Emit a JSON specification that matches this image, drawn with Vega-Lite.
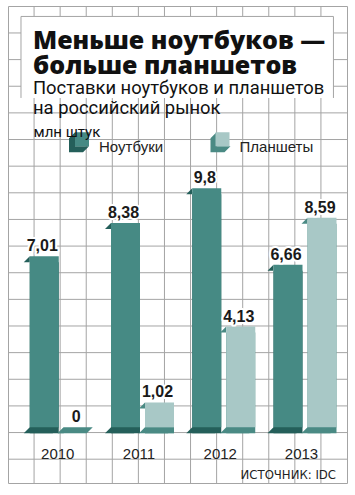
{
  "$schema": "https://vega.github.io/schema/vega-lite/v6.json",
  "width": 339,
  "height": 477,
  "autosize": "none",
  "padding": {"left": 8, "top": 6, "right": 8, "bottom": 12},
  "background": "white",
  "config": {
    "view": {"stroke": "#a4a4a4", "strokeWidth": 1},
    "locale": {"number": {"decimal": ",", "thousands": "\u00a0", "grouping": [3], "currency": ["", " руб."]}}
  },
  "title": {
    "text": ["Меньше ноутбуков —", "больше планшетов"],
    "subtitle": ["Поставки ноутбуков и планшетов", "на российский рынок"],
    "anchor": "start",
    "frame": "group",
    "orient": "top",
    "font": "Open Sans",
    "fontWeight": 800,
    "fontSize": 25,
    "lineHeight": 25,
    "color": "#111111",
    "subtitleFont": "Roboto",
    "subtitleFontSize": 18.4,
    "subtitleLineHeight": 20,
    "subtitleColor": "#111111",
    "subtitlePadding": 0,
    "offset": -112,
    "dx": 25
  },
  "layer": [
    {
      "layer": [
        {
          "data": {"values": [{"gx": 1}, {"gx": 2}, {"gx": 3}, {"gx": 4}, {"gx": 5}, {"gx": 6}, {"gx": 7}, {"gx": 8}, {"gx": 9}, {"gx": 10}, {"gx": 11}, {"gx": 12}]},
          "mark": {"type": "rule", "color": "#a4a4a4", "strokeWidth": 1},
          "encoding": {
            "x": {"field": "gx", "type": "quantitative", "scale": {"domain": [0, 13], "nice": false, "zero": false}, "axis": null}
          }
        },
        {
          "data": {"values": [{"gy": 0}, {"gy": 1}, {"gy": 2}, {"gy": 3}, {"gy": 4}, {"gy": 5}, {"gy": 6}, {"gy": 7}, {"gy": 8}, {"gy": 9}, {"gy": 10}, {"gy": 11}, {"gy": 12}, {"gy": 13}, {"gy": 14}, {"gy": 15}, {"gy": 16}]},
          "mark": {"type": "rule", "color": "#a4a4a4", "strokeWidth": 1},
          "encoding": {
            "y": {"field": "gy", "type": "quantitative", "scale": {"domain": [-0.8934, 17.012], "nice": false, "zero": false}, "axis": null}
          }
        },
        {
          "data": {"values": [{}]},
          "mark": {"type": "rect", "fill": "white"},
          "encoding": {
            "x": {"datum": 0.4985, "type": "quantitative", "axis": null},
            "x2": {"datum": 12.48},
            "y": {"datum": 13.56, "type": "quantitative", "axis": null},
            "y2": {"datum": 16.62}
          }
        },
        {
          "data": {"values": [{}]},
          "mark": {"type": "rule", "color": "#a4a4a4", "strokeWidth": 1},
          "encoding": {"x": {"datum": 0.4985, "type": "quantitative", "axis": null}, "x2": {"datum": 12.48}, "y": {"datum": 16.62, "type": "quantitative", "axis": null}}
        },
        {
          "data": {"values": [{}]},
          "mark": {"type": "rule", "color": "#a4a4a4", "strokeWidth": 1},
          "encoding": {"x": {"datum": 0.4985, "type": "quantitative", "axis": null}, "y": {"datum": 13.56, "type": "quantitative", "axis": null}, "y2": {"datum": 16.62}}
        },
        {
          "data": {"values": [{}]},
          "mark": {"type": "rule", "color": "#a4a4a4", "strokeWidth": 1},
          "encoding": {"x": {"datum": 12.48, "type": "quantitative", "axis": null}, "y": {"datum": 13.56, "type": "quantitative", "axis": null}, "y2": {"datum": 16.62}}
        }
      ]
    },
    {
      "data": {"values": [
        {"year": "2010", "type": "Ноутбуки", "value": 7.01},
        {"year": "2010", "type": "Планшеты", "value": 0},
        {"year": "2011", "type": "Ноутбуки", "value": 8.38},
        {"year": "2011", "type": "Планшеты", "value": 1.02},
        {"year": "2012", "type": "Ноутбуки", "value": 9.8},
        {"year": "2012", "type": "Планшеты", "value": 4.13},
        {"year": "2013", "type": "Ноутбуки", "value": 6.66},
        {"year": "2013", "type": "Планшеты", "value": 8.59}
      ]},
      "encoding": {
        "x": {"field": "year", "type": "ordinal",
          "scale": {"paddingInner": 0, "paddingOuter": 0.08615, "align": 0.9018},
          "axis": {"orient": "bottom", "title": "ИСТОЧНИК: IDC", "labelFont": "Liberation Sans", "labelFontSize": 15, "labelColor": "#222222", "labelAngle": 0, "labelPadding": -24.5, "labelBaseline": "alphabetic", "labelOffset": -3.5, "ticks": false, "tickSize": 0, "domain": false, "grid": false, "zindex": 3,
            "titleX": 327.5, "titleY": -5, "titleAlign": "right", "titleBaseline": "alphabetic", "titleFont": "Liberation Sans Narrow, DejaVu Sans Condensed, sans-serif", "titleFontSize": 13, "titleFontWeight": "normal", "titleColor": "#222222"}},
        "xOffset": {"field": "type", "type": "nominal", "scale": {"domain": ["Ноутбуки", "Планшеты"], "paddingInner": 0, "paddingOuter": 0.1949}},
        "y": {"field": "value", "type": "quantitative",
          "scale": {"domain": [-2.28, 17.27], "nice": false, "zero": false},
          "axis": {"orient": "left", "labels": false, "ticks": false, "domain": false, "grid": false, "title": "млн штук", "zindex": 3,
            "titleAngle": 0, "titleX": 25, "titleY": 130, "titleAlign": "left", "titleBaseline": "alphabetic", "titleFont": "Roboto", "titleFontSize": 15, "titleFontWeight": "normal", "titleColor": "#111111"}}
      },
      "layer": [
        {
          "mark": {"type": "bar", "width": 29, "xOffset": -6, "yOffset": 6, "y2Offset": 6},
          "encoding": {
            "y2": {"datum": 0},
            "fill": {"field": "type", "type": "nominal",
              "scale": {"domain": ["Ноутбуки", "Планшеты"], "range": ["#245f5a", "#4a8a84"]},
              "legend": {"orient": "none", "legendX": 66.5, "legendY": 133.5, "direction": "horizontal", "title": null, "zindex": 1,
                "symbolType": "M -1 -2.14 L -1 -0.14 L 1 -0.14 L 0.143 0.717 L -1.857 0.717 L -1.857 -1.283 Z",
                "symbolSize": 196, "symbolStrokeWidth": 0, "symbolOpacity": 1,
                "labelExpr": "''", "labelFont": "Liberation Sans", "labelFontSize": 15, "labelOffset": 9.5, "columnPadding": 110.5}}
          }
        },
        {
          "mark": {"type": "point", "filled": true, "opacity": 1, "strokeWidth": 0, "size": 841,
            "shape": "M -1 0 L 1 0 L 0.5862 0.4138 L -1.4138 0.4138 Z"},
          "encoding": {
            "y": {"datum": 0},
            "fill": {"field": "type", "type": "nominal", "legend": null}
          }
        },
        {
          "mark": {"type": "point", "filled": true, "opacity": 1, "strokeWidth": 0, "size": 841,
            "shape": "M -1.4138 0.4138 L -1 0 L -1 0.4138 Z"},
          "encoding": {
            "fill": {"field": "type", "type": "nominal", "legend": null}
          }
        },
        {
          "mark": {"type": "bar", "width": 29},
          "encoding": {
            "color": {"field": "type", "type": "nominal",
              "scale": {"range": ["#468a84", "#a8c8c6"]},
              "legend": {"orient": "none", "legendX": 66.5, "legendY": 133.5, "direction": "horizontal", "title": null, "zindex": 1,
                "symbolType": "M -1 -2.14 L 1 -2.14 L 1 -0.14 L -1 -0.14 Z M -1.857 0.717 L -1.857 0.717 Z",
                "symbolSize": 196, "symbolStrokeWidth": 0, "symbolOpacity": 1,
                "labelFont": "Liberation Sans", "labelFontSize": 15, "labelColor": "#222222", "labelOffset": 9.5, "columnPadding": 45.5}}
          }
        },
        {
          "mark": {"type": "text", "font": "Liberation Sans", "fontSize": 16, "fontWeight": "bold", "baseline": "alphabetic", "dx": -2, "dy": -5, "fill": "white", "stroke": "white", "strokeWidth": 4, "strokeJoin": "round"},
          "encoding": {"text": {"field": "value", "type": "quantitative", "format": ".3~r"}}
        },
        {
          "mark": {"type": "text", "font": "Liberation Sans", "fontSize": 16, "fontWeight": "bold", "baseline": "alphabetic", "dx": -2, "dy": -5, "color": "#1a1a1a"},
          "encoding": {"text": {"field": "value", "type": "quantitative", "format": ".3~r"}}
        }
      ]
    }
  ],
  "resolve": {"scale": {"x": "independent", "y": "independent"}}
}
